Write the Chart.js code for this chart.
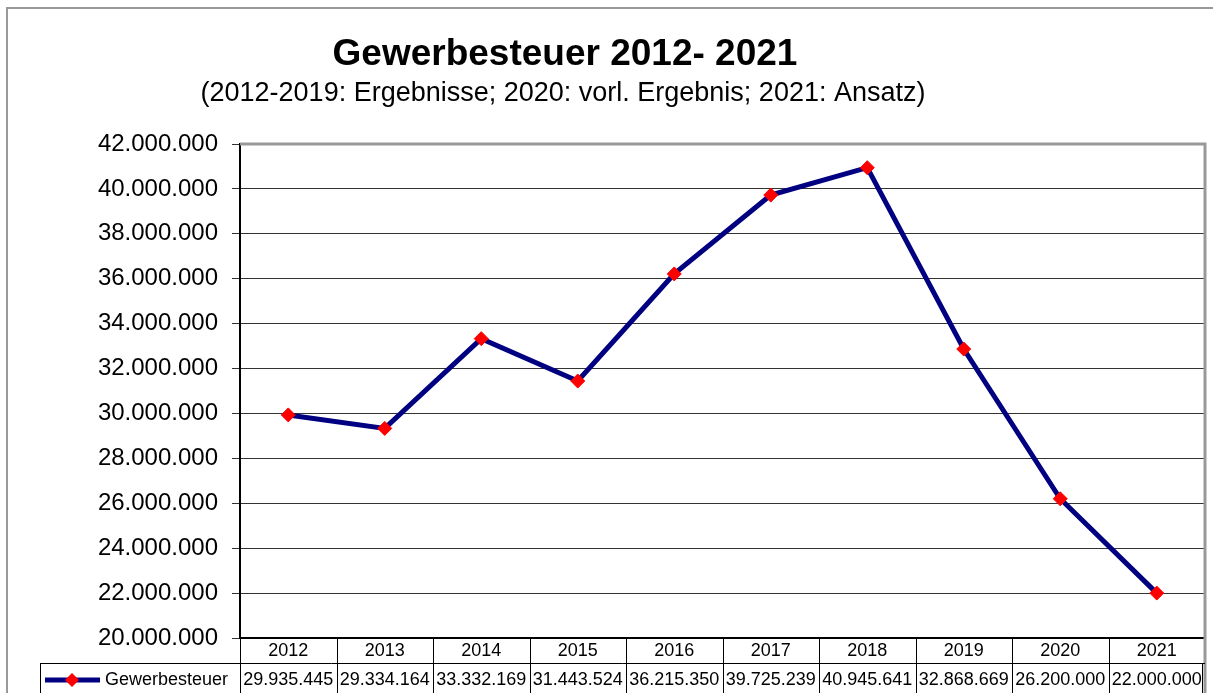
<!DOCTYPE html>
<html>
<head>
<meta charset="utf-8">
<script src="https://cdn.jsdelivr.net/npm/chart.js@4/dist/chart.umd.min.js"></script>
<style>
  html, body { margin: 0; padding: 0; background: #fff; }
  #wrap { width: 1213px; height: 693px; position: relative; }
</style>
</head>
<body>
<div id="wrap"><canvas id="gwChart"></canvas></div>
<script>
// Gewerbesteuer chart with data table underneath
const years = ['2012','2013','2014','2015','2016','2017','2018','2019','2020','2021'];
const gewerbesteuer = [29935445, 29334164, 33332169, 31443524, 36215350, 39725239, 40945641, 32868669, 26200000, 22000000];
const seriesName = 'Gewerbesteuer';
const titleText = 'Gewerbesteuer 2012- 2021';
const subtitleText = '(2012-2019: Ergebnisse; 2020: vorl. Ergebnis; 2021: Ansatz)';
const yMin = 20000000, yMax = 42000000, yStep = 2000000;

const FONT = '"Liberation Sans", Arial, sans-serif';

function fmt(n) {
    return String(Math.round(n)).replace(/\B(?=(\d{3})+(?!\d))/g, '.');
}

// frame, titles, plot border and the data table
const tablePlugin = {
    id: 'tablePlugin',
    beforeDraw(chart) {
        const c = chart.ctx;
        c.save();
        c.fillStyle = '#fff';
        c.fillRect(0, 0, chart.width, chart.height);
        c.strokeStyle = '#999';
        c.lineWidth = 2;
        c.strokeRect(7, 8, chart.width + 10, chart.height + 10);
        c.restore();
    },
    afterDraw(chart) {
        const c = chart.ctx;
        const a = chart.chartArea;
        const x = chart.scales.x;
        c.save();
        // titles
        c.fillStyle = '#000';
        c.textAlign = 'center';
        c.textBaseline = 'middle';
        c.font = 'bold 37px ' + FONT;
        c.fillText(titleText, 565, 55);
        c.font = '27px ' + FONT;
        c.fillText(subtitleText, 563, 94);

        // top / right border of plot area
        c.strokeStyle = '#999';
        c.lineWidth = 3;
        c.beginPath();
        c.moveTo(a.left, a.top);
        c.lineTo(a.right, a.top);
        c.lineTo(a.right, chart.height);
        c.stroke();

        // table
        const half = (x.getPixelForValue(1) - x.getPixelForValue(0)) / 2;
        const rowTop = a.bottom, rowMid = 663, rowBot = chart.height;
        c.strokeStyle = '#000';
        c.lineWidth = 1;
        c.beginPath();
        c.moveTo(40.5, rowMid + 0.5);
        c.lineTo(a.right, rowMid + 0.5);
        c.moveTo(40.5, rowMid);
        c.lineTo(40.5, rowBot);
        c.moveTo(a.left + 0.5, rowTop);
        c.lineTo(a.left + 0.5, rowBot);
        years.forEach((y, i) => {
            const bx = Math.round(x.getPixelForValue(i) + half) + 0.5;
            if (i < years.length - 1) {
                c.moveTo(bx, rowTop);
                c.lineTo(bx, rowBot);
            } else {
                c.moveTo(bx - 3, rowMid);
                c.lineTo(bx - 3, rowBot);
            }
        });
        c.stroke();

        c.font = '18px ' + FONT;
        c.fillStyle = '#000';
        years.forEach((y, i) => {
            const cx = x.getPixelForValue(i);
            c.fillText(y, cx, 651);
            c.fillText(fmt(gewerbesteuer[i]), cx, 680);
        });

        // legend key in table
        c.strokeStyle = '#000080';
        c.lineWidth = 5;
        c.beginPath();
        c.moveTo(45, 680);
        c.lineTo(100, 680);
        c.stroke();
        c.fillStyle = '#ff0000';
        c.beginPath();
        c.moveTo(72, 673); c.lineTo(79, 680); c.lineTo(72, 687); c.lineTo(65, 680);
        c.closePath();
        c.fill();
        c.fillStyle = '#000';
        c.textAlign = 'left';
        c.fillText(seriesName, 105, 680);
        c.restore();
    }
};

new Chart(document.getElementById('gwChart'), {
    type: 'line',
    data: {
        labels: years,
        datasets: [{
            label: seriesName,
            data: gewerbesteuer,
            borderColor: '#000080',
            borderWidth: 5,
            tension: 0,
            pointStyle: 'rectRot',
            pointRadius: 7,
            pointBackgroundColor: '#ff0000',
            pointBorderColor: '#ff0000',
            pointBorderWidth: 1
        }]
    },
    options: {
        responsive: true,
        maintainAspectRatio: false,
        animation: false,
        layout: { padding: { top: 144, right: 8, bottom: 0, left: 0 } },
        plugins: { legend: { display: false }, title: { display: false }, tooltip: { enabled: false } },
        scales: {
            x: {
                offset: true,
                grid: { display: false },
                ticks: { display: false },
                border: { display: true, color: '#000', width: 2 },
                afterFit(s) { s.height = 55; }
            },
            y: {
                min: yMin, max: yMax,
                ticks: {
                    stepSize: yStep,
                    padding: 14,
                    color: '#000',
                    font: { family: FONT, size: 24 },
                    callback: v => fmt(v)
                },
                grid: { color: '#333', lineWidth: 1, tickLength: 8 },
                border: { display: true, color: '#000', width: 2 },
                afterFit(s) { s.width = 240; }
            }
        }
    },
    plugins: [tablePlugin]
});
</script>
</body>
</html>
